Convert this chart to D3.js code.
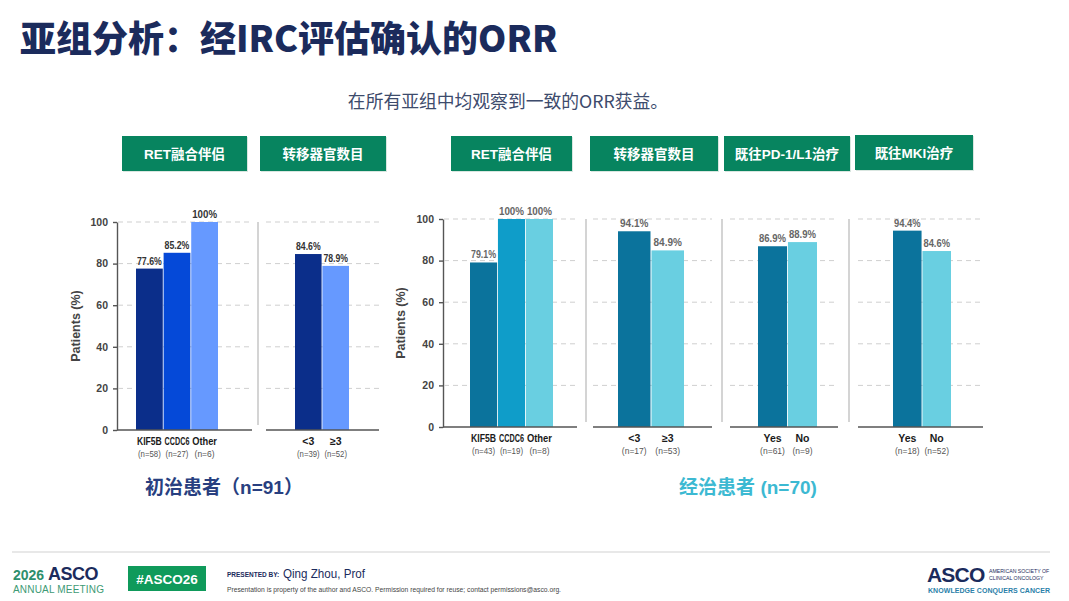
<!DOCTYPE html>
<html lang="zh">
<head>
<meta charset="UTF-8">
<title>亚组分析：经IRC评估确认的ORR</title>
<script src="https://cdn.jsdelivr.net/npm/d3@7"></script>
<style>
  body { margin: 0; background: #fff; }
  svg { display: block; font-family: "Liberation Sans", Arial, "Noto Sans CJK SC", sans-serif; }
  .grid line { stroke: #cfcfcf; stroke-dasharray: 5,4; }
  .sep { stroke: #d4d4d4; stroke-width: 2; }
  .base { stroke: #555; stroke-width: 1.6; }
  .yaxis path, .yaxis line { stroke: #555; stroke-width: 1.4; }
  .yaxis text { font-size: 10.5px; font-weight: bold; fill: #444; }
</style>
</head>
<body>
<svg width="1069" height="601"></svg>
<script>
// ---- data ----
const yTicks = [0, 20, 40, 60, 80, 100];

const naiveFusionCats = ["KIF5B", "CCDC6", "Other"];
const naiveFusionN = ["(n=58)", "(n=27)", "(n=6)"];
const naiveFusionOrr = [77.6, 85.2, 100];

const naiveMetsCats = ["<3", "≥3"];
const naiveMetsN = ["(n=39)", "(n=52)"];
const naiveMetsOrr = [84.6, 78.9];

const preFusionCats = ["KIF5B", "CCDC6", "Other"];
const preFusionN = ["(n=43)", "(n=19)", "(n=8)"];
const preFusionOrr = [79.1, 100, 100];

const preMetsCats = ["<3", "≥3"];
const preMetsN = ["(n=17)", "(n=53)"];
const preMetsOrr = [94.1, 84.9];

const prePd1Cats = ["Yes", "No"];
const prePd1N = ["(n=61)", "(n=9)"];
const prePd1Orr = [86.9, 88.9];

const preMkiCats = ["Yes", "No"];
const preMkiN = ["(n=18)", "(n=52)"];
const preMkiOrr = [94.4, 84.6];

const headerLabels = ["RET融合伴侣", "转移器官数目", "RET融合伴侣", "转移器官数目", "既往PD-1/L1治疗", "既往MKI治疗"];

// ---- colours ----
const naiveDark = "#0b2e8a", naiveMid = "#0549d8", naiveLight = "#6699ff";
const preDark = "#0b739c", preMid = "#0f9dc9", preLight = "#69cfe1";

const svg = d3.select("svg");
const fmt = v => Number.isInteger(v) ? v + "%" : v.toFixed(1) + "%";

// squeeze a text into maxW like a condensed face would
function fitWidth(sel, maxW) {
  sel.each(function () {
    const w = this.getComputedTextLength();
    if (w > maxW) d3.select(this).attr("textLength", maxW).attr("lengthAdjust", "spacingAndGlyphs");
  });
}

// title
svg.append("text").attr("x", 20).attr("y", 52)
  .attr("font-family", "'Noto Sans CJK SC', sans-serif")
  .attr("font-size", 36).attr("font-weight", 900).attr("fill", "#1b2b5c")
  .text("亚组分析：经IRC评估确认的ORR");

svg.append("text").attr("x", 508).attr("y", 108).attr("text-anchor", "middle")
  .attr("font-family", "'Noto Sans CJK SC', sans-serif")
  .attr("font-size", 17.8).attr("fill", "#3d4b6c")
  .text("在所有亚组中均观察到一致的ORR获益。");

// header boxes
const headerBoxes = [[122, 136, 125], [260, 136, 126], [451, 136, 121], [590, 136, 128], [724, 136, 126], [855, 135, 118]];
headerBoxes.forEach(([x, y, w], i) => {
  svg.append("rect").attr("x", x + 1).attr("y", y + 1).attr("width", w).attr("height", 35).attr("fill", "#d9e6e0");
  svg.append("rect").attr("x", x).attr("y", y).attr("width", w).attr("height", 35).attr("fill", "#07845f");
  svg.append("text").attr("x", x + w / 2).attr("y", y + 22.5).attr("text-anchor", "middle")
    .attr("font-family", "'Liberation Sans', 'Noto Sans CJK SC', sans-serif")
    .attr("font-size", 13.5).attr("font-weight", "bold").attr("fill", "#fff")
    .text(headerLabels[i]);
});

// ---- one chart group ----
function drawChart(opt) {
  const y = d3.scaleLinear().domain([0, 100]).range(opt.yRange);
  const g = svg.append("g");

  // y axis
  g.append("g").attr("class", "yaxis")
    .attr("transform", `translate(${opt.axisX},0)`)
    .call(d3.axisLeft(y).tickValues(yTicks).tickSize(4).tickPadding(5).tickSizeOuter(0));

  g.append("text")
    .attr("transform", `translate(${opt.labelX},${(opt.yRange[0] + opt.yRange[1]) / 2}) rotate(-90)`)
    .attr("text-anchor", "middle").attr("font-size", 12.5).attr("font-weight", "bold").attr("fill", "#444")
    .text("Patients (%)");

  opt.panels.forEach((p, pi) => {
    const x = d3.scaleBand().domain(p.cats).range(p.barRange).paddingInner(0.03);

    // grid
    g.append("g").attr("class", "grid").selectAll("line")
      .data(yTicks.filter(t => t > 0)).join("line")
      .attr("x1", p.span[0]).attr("x2", p.span[1])
      .attr("y1", d => y(d)).attr("y2", d => y(d));

    // separator before panel
    if (pi > 0) {
      g.append("line").attr("class", "sep")
        .attr("x1", p.sepX).attr("x2", p.sepX)
        .attr("y1", y(100)).attr("y2", y(0) - 5);
    }

    // bars
    g.append("g").selectAll("rect")
      .data(p.values).join("rect")
      .attr("x", (d, i) => x(p.cats[i]))
      .attr("y", d => y(d))
      .attr("width", x.bandwidth())
      .attr("height", d => y(0) - y(d))
      .attr("fill", (d, i) => p.colors[i]);

    // value labels
    g.append("g").selectAll("text")
      .data(p.values).join("text")
      .attr("x", (d, i) => x(p.cats[i]) + x.bandwidth() / 2)
      .attr("y", d => y(d) - 4)
      .attr("text-anchor", "middle").attr("font-size", 10).attr("font-weight", "bold")
      .attr("fill", opt.valueColor)
      .text(d => fmt(d))
      .call(fitWidth, x.bandwidth() - 2);

    // baseline
    g.append("line").attr("class", "base")
      .attr("x1", p.span[0] - (pi === 0 ? 1 : 0)).attr("x2", p.span[1])
      .attr("y1", y(0)).attr("y2", y(0));

    // category labels
    g.append("g").selectAll("text")
      .data(p.cats).join("text")
      .attr("x", d => x(d) + x.bandwidth() / 2)
      .attr("y", y(0) + opt.catDy)
      .attr("text-anchor", "middle").attr("font-size", 10.5).attr("font-weight", "bold")
      .attr("fill", "#1a1a1a")
      .text(d => d)
      .call(fitWidth, x.bandwidth() - 2);

    g.append("g").selectAll("text")
      .data(p.ns).join("text")
      .attr("x", (d, i) => x(p.cats[i]) + x.bandwidth() / 2)
      .attr("y", y(0) + opt.catDy + 11.5)
      .attr("text-anchor", "middle").attr("font-size", 8.5).attr("fill", "#555")
      .text(d => d)
      .call(fitWidth, x.bandwidth() - 4);
  });

  svg.append("text").attr("x", opt.groupX).attr("y", 494).attr("text-anchor", "middle")
    .attr("font-family", "'Liberation Sans', 'Noto Sans CJK SC', sans-serif")
    .attr("font-size", 19).attr("font-weight", "bold").attr("fill", opt.groupColor)
    .text(opt.groupLabel);
}

drawChart({
  yRange: [430, 222], axisX: 117, labelX: 80, valueColor: "#333", catDy: 15,
  groupX: 224, groupColor: "#283f80", groupLabel: "初治患者（n=91）",
  panels: [
    { cats: naiveFusionCats, ns: naiveFusionN, values: naiveFusionOrr,
      colors: [naiveDark, naiveMid, naiveLight], barRange: [136, 218], span: [118, 252] },
    { cats: naiveMetsCats, ns: naiveMetsN, values: naiveMetsOrr,
      colors: [naiveDark, naiveLight], barRange: [295, 349], span: [266, 379], sepX: 258 }
  ]
});

drawChart({
  yRange: [427, 219], axisX: 443, labelX: 405, valueColor: "#666", catDy: 15,
  groupX: 748, groupColor: "#3cb9d2", groupLabel: "经治患者 (n=70)",
  panels: [
    { cats: preFusionCats, ns: preFusionN, values: preFusionOrr,
      colors: [preDark, preMid, preLight], barRange: [470, 553], span: [444, 577] },
    { cats: preMetsCats, ns: preMetsN, values: preMetsOrr,
      colors: [preDark, preLight], barRange: [618, 684], span: [593, 712], sepX: 586 },
    { cats: prePd1Cats, ns: prePd1N, values: prePd1Orr,
      colors: [preDark, preLight], barRange: [758, 817], span: [730, 838], sepX: 722 },
    { cats: preMkiCats, ns: preMkiN, values: preMkiOrr,
      colors: [preDark, preLight], barRange: [893, 951], span: [858, 983], sepX: 849 }
  ]
});

// ---- footer ----
const foot = svg.append("g");
foot.append("line").attr("x1", 12).attr("x2", 1050).attr("y1", 552).attr("y2", 552)
  .attr("stroke", "#e8e8e8").attr("stroke-width", 2);

foot.append("text").attr("x", 13).attr("y", 580).attr("font-weight", "bold")
  .call(t => {
    t.append("tspan").attr("font-size", 14).attr("fill", "#2e8f6c").text("2026 ");
    t.append("tspan").attr("font-size", 18).attr("fill", "#1b2b5c").attr("letter-spacing", -0.5).text("ASCO");
  });
foot.append("text").attr("x", 13).attr("y", 593).attr("font-size", 10).attr("fill", "#3d9a74")
  .attr("textLength", 91).text("ANNUAL MEETING");

foot.append("rect").attr("x", 128).attr("y", 566).attr("width", 78).attr("height", 25).attr("fill", "#0f9a5b");
foot.append("text").attr("x", 167).attr("y", 583.5).attr("text-anchor", "middle")
  .attr("font-size", 13.5).attr("font-weight", "bold").attr("fill", "#fff").text("#ASCO26");

foot.append("text").attr("x", 227).attr("y", 577).attr("font-size", 6.5).attr("font-weight", "bold")
  .attr("fill", "#1b2b5c").text("PRESENTED BY:");
foot.append("text").attr("x", 283).attr("y", 578).attr("font-size", 12.5)
  .attr("fill", "#1b2b5c").attr("textLength", 82).attr("lengthAdjust", "spacingAndGlyphs")
  .text("Qing Zhou, Prof");
foot.append("text").attr("x", 227).attr("y", 592).attr("font-size", 6.3)
  .attr("fill", "#444").attr("textLength", 334).attr("lengthAdjust", "spacingAndGlyphs")
  .text("Presentation is property of the author and ASCO. Permission required for reuse; contact permissions@asco.org.");

foot.append("text").attr("x", 927).attr("y", 582).attr("font-size", 21).attr("font-weight", "bold")
  .attr("fill", "#1b2b5c").attr("letter-spacing", -0.8).text("ASCO");
foot.append("text").attr("x", 989).attr("y", 573).attr("font-size", 5.2).attr("fill", "#1b2b5c")
  .text("AMERICAN SOCIETY OF");
foot.append("text").attr("x", 989).attr("y", 580).attr("font-size", 5.2).attr("fill", "#1b2b5c")
  .text("CLINICAL ONCOLOGY");
foot.append("text").attr("x", 928).attr("y", 593).attr("font-size", 7).attr("font-weight", "bold")
  .attr("fill", "#2b7fa9").attr("textLength", 122).text("KNOWLEDGE CONQUERS CANCER");
</script>
</body>
</html>
